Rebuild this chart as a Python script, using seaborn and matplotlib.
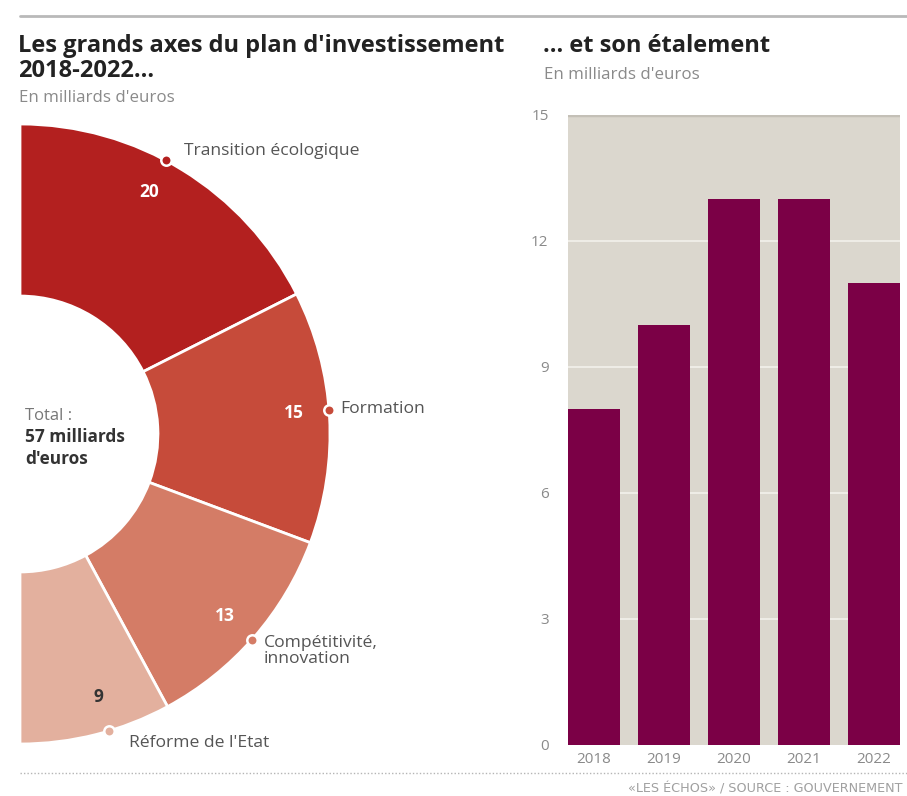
import numpy as np
import pandas as pd
import matplotlib
matplotlib.use("Agg")
import matplotlib.pyplot as plt
import seaborn as sns
from matplotlib.lines import Line2D

# Investment plan axes (billions of euros)
axes_labels = ["Transition écologique", "Formation", "Compétitivité,\ninnovation", "Réforme de l'Etat"]
axes_values = [20, 15, 13, 9]
axes_colors = ["#b3201f", "#c64b3a", "#d47c66", "#e3b09e"]

# Yearly spread (billions of euros)
years = ["2018", "2019", "2020", "2021", "2022"]
year_values = [8, 10, 13, 13, 11]
y_ticks = [0, 3, 6, 9, 12, 15]

sns.set_theme(style="white")
plt.rcParams["font.family"] = ["Open Sans", "DejaVu Sans"]

W, H = 907, 796
fig = plt.figure(figsize=(W / 100, H / 100), dpi=100)
fig.patch.set_facecolor("white")


def fx(px):
    return px / W


def fy(py):
    return 1 - py / H


# top rule
fig.add_artist(Line2D([fx(20), 1.0], [fy(16), fy(16)], color="#b9b9b9", lw=2))

# titles
title_kw = dict(fontsize=17.0, fontweight="bold", color="#222222", va="center", ha="left")
sub_kw = dict(fontsize=12.2, color="#8a8a8a", va="center", ha="left")
fig.text(fx(18), fy(46), "Les grands axes du plan d'investissement", **title_kw)
fig.text(fx(18), fy(71), "2018-2022...", **title_kw)
fig.text(fx(19), fy(98), "En milliards d'euros", **sub_kw)
fig.text(fx(543), fy(46), "... et son étalement", **title_kw)
fig.text(fx(544), fy(75), "En milliards d'euros", **sub_kw)

# ---- half donut ----
cx, cy, R = 20, 434, 310
ax_d = fig.add_axes([fx(cx), fy(cy + R), fx(R), (2 * R) / H])
ax_d.set_axis_off()
total = sum(axes_values)
wedges, _ = ax_d.pie(axes_values + [total], startangle=90, counterclock=False,
                     colors=axes_colors + ["white"], radius=1.0,
                     wedgeprops=dict(width=0.555, edgecolor="white", linewidth=2))
wedges[-1].set_visible(False)
ax_d.set_aspect("auto")
ax_d.set_xlim(0, 1)
ax_d.set_ylim(-1, 1)

# value labels and callout dots (small angular nudges keep them off the seams)
text_colors = ["white", "white", "white", "#333333"]
angle_nudge = [3.5, 1.3, -0.5, 2.5]
start = 90.0
for i, val in enumerate(axes_values):
    span = 180.0 * val / total
    mid = np.deg2rad(start - span / 2 + angle_nudge[i])
    start -= span
    r_txt = 0.885
    ax_d.text(r_txt * np.cos(mid), r_txt * np.sin(mid), str(val), color=text_colors[i],
              fontsize=12.5, fontweight="bold", ha="center", va="center")
    ax_d.plot([np.cos(mid)], [np.sin(mid)], marker="o", ms=7.5, mfc=axes_colors[i],
              mec="white", mew=1.8, clip_on=False, zorder=5)

# category names
lab_kw = dict(fontsize=12.6, color="#555555", va="center", ha="left")
fig.text(fx(184), fy(151), axes_labels[0], **lab_kw)
fig.text(fx(340), fy(409), axes_labels[1], **lab_kw)
fig.text(fx(264), fy(651), axes_labels[2], linespacing=1.0, **lab_kw)
fig.text(fx(129), fy(743), axes_labels[3], **lab_kw)

# centre total
fig.text(fx(25), fy(416), "Total :", fontsize=12, color="#777777", va="center")
fig.text(fx(25), fy(437), "57 milliards", fontsize=12.4, color="#333333",
         fontweight="bold", va="center")
fig.text(fx(25), fy(459), "d'euros", fontsize=12.4, color="#333333",
         fontweight="bold", va="center")

# ---- bar chart ----
ax_b = fig.add_axes([fx(568), fy(745), fx(900 - 568), 630 / H])
df = pd.DataFrame({"year": years, "value": year_values})
sns.barplot(data=df, x="year", y="value", color="#7b0046", saturation=1,
            width=0.74, ax=ax_b, zorder=3, linewidth=0)
ax_b.set_facecolor("#dbd7ce")
ax_b.set_xlim(-0.37, len(years) - 0.63)
ax_b.set_ylim(0, 15)
ax_b.set_yticks(y_ticks)
ax_b.set_yticklabels([str(t) for t in y_ticks])
for t in y_ticks[1:-1]:
    ax_b.axhline(t, color="#f3f1ec", lw=1.2, zorder=1)
ax_b.axhline(15, color="#c4c0b7", lw=2.5, zorder=2)
for s in ax_b.spines.values():
    s.set_visible(False)
ax_b.set_xlabel("")
ax_b.set_ylabel("")
ax_b.tick_params(axis="both", length=0, colors="#8a8a8a", labelsize=11)
ax_b.tick_params(axis="y", pad=14)
ax_b.tick_params(axis="x", pad=5)
ax_b.grid(False)

# footer
fig.add_artist(Line2D([fx(20), 1.0], [fy(773), fy(773)], color="#b5b5b5", lw=1,
                      linestyle=(0, (1, 1.5))))
fig.text(fx(903), fy(789), "«LES ÉCHOS» / SOURCE : GOUVERNEMENT", fontsize=9.2,
         family=["DejaVu Sans"], color="#a0a0a0", va="center", ha="right")

fig.savefig("out.png", dpi=100, facecolor="white")
